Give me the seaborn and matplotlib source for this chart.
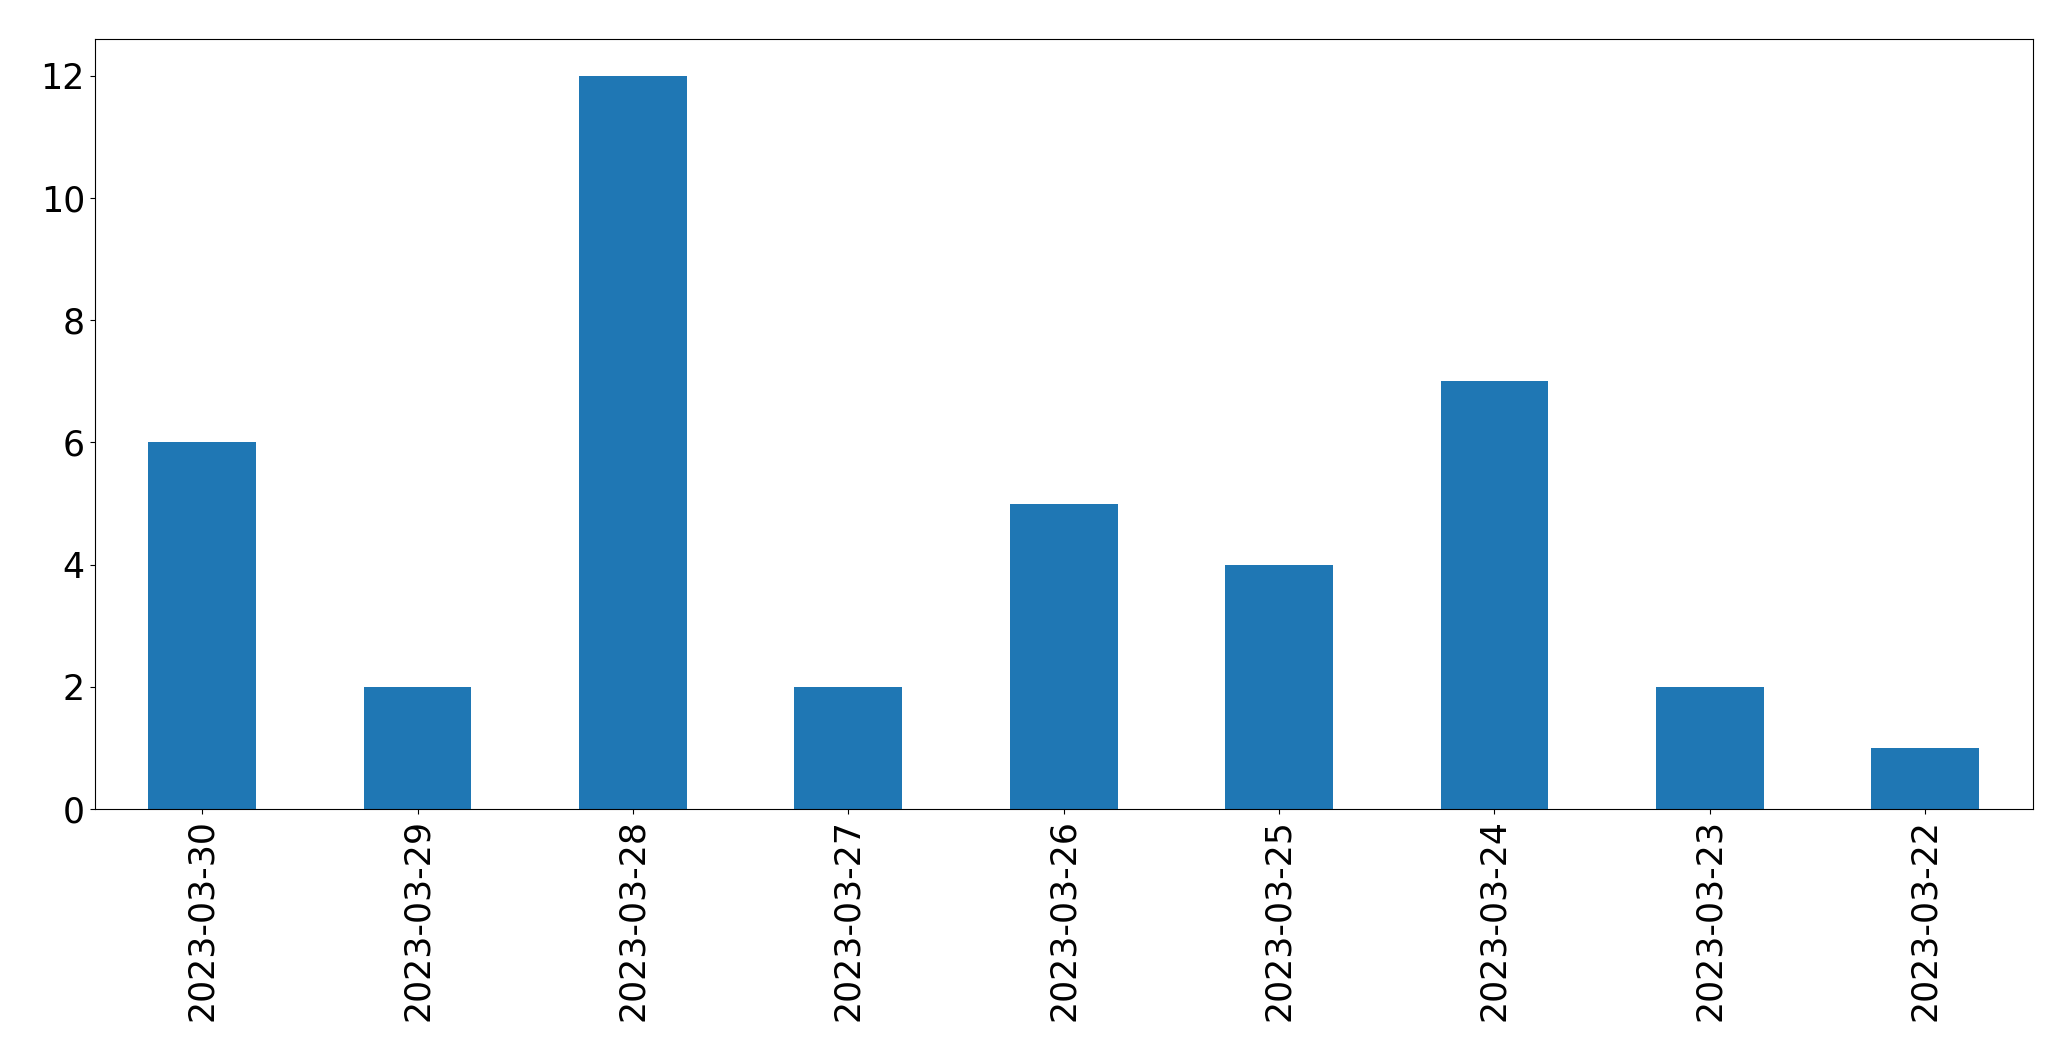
import pandas as pd
import matplotlib
matplotlib.use("Agg")
import matplotlib.pyplot as plt
import seaborn as sns

# Daily counts, newest first (as in the source chart)
dates = ['2023-03-30', '2023-03-29', '2023-03-28', '2023-03-27', '2023-03-26',
         '2023-03-25', '2023-03-24', '2023-03-23', '2023-03-22']
counts = [6, 2, 12, 2, 5, 4, 7, 2, 1]

df = pd.DataFrame({'date': dates, 'count': counts})

fig = plt.figure(figsize=(20.71, 10.61), dpi=100)
ax = fig.add_axes([0.0457, 0.2375, 0.9358, 0.7255])

sns.barplot(data=df, x='date', y='count', order=dates, color='#1f77b4',
            saturation=1, width=0.5, linewidth=0, ax=ax)

ax.set_xlim(-0.5, len(dates) - 0.5)
ax.set_ylim(0, 12.6)
ax.set_xlabel('')
ax.set_ylabel('')
ax.tick_params(axis='both', labelsize=25)
ax.tick_params(axis='x', labelrotation=90)

plt.savefig('out.png', dpi=100)
